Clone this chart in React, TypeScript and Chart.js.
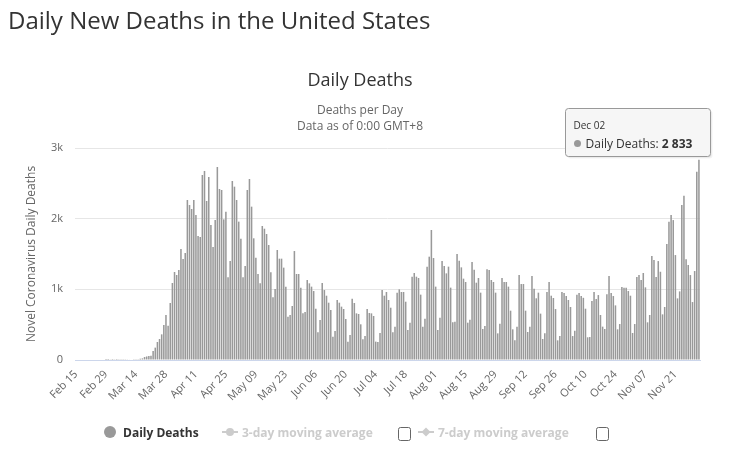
import React, { useEffect, useRef } from 'react';
import { Chart, registerables } from 'chart.js';

Chart.register(...registerables);

// ---- data ----
const monthNames = ['Feb', 'Mar', 'Apr', 'May', 'Jun', 'Jul', 'Aug', 'Sep', 'Oct', 'Nov', 'Dec'];
const monthFirstDay = [15, 1, 1, 1, 1, 1, 1, 1, 1, 1, 1];
const monthLastDay = [29, 31, 30, 31, 30, 31, 31, 30, 31, 30, 2];

const febDeaths = [0, 0, 0, 0, 0, 0, 0, 0, 0, 0, 0, 0, 0, 0, 1];
const marDeaths = [1, 5, 1, 4, 1, 2, 3, 4, 4, 5, 8, 7, 11, 10, 12, 18, 23, 42, 50, 55, 60, 127, 175, 255, 297, 363, 495, 636, 486, 807, 1090];
const aprDeaths = [1245, 1203, 1274, 1571, 1429, 1514, 2264, 2193, 2137, 2264, 2052, 1755, 1740, 2618, 2675, 2250, 2590, 1910, 1599, 1981, 2731, 2420, 2406, 1990, 2099, 1170, 1401, 2533, 2453, 2264];
const mayDeaths = [1958, 1717, 1170, 1330, 2406, 2561, 2170, 1722, 1448, 1217, 1085, 1896, 1858, 1783, 1627, 1240, 887, 1005, 1557, 1434, 1434, 1307, 1038, 613, 637, 764, 1542, 1217, 1217, 1024, 660];
const junDeaths = [679, 1132, 1085, 1038, 976, 726, 391, 566, 1090, 990, 910, 811, 708, 330, 410, 849, 811, 755, 722, 580, 260, 354, 868, 807, 660, 651, 505, 292, 340, 722];
const julDeaths = [665, 660, 623, 260, 255, 382, 990, 910, 962, 849, 740, 391, 472, 953, 1000, 962, 962, 825, 424, 528, 1179, 1231, 1179, 1160, 925, 472, 585, 1321, 1462, 1840, 1443];
const augDeaths = [1038, 424, 599, 1401, 1330, 1226, 1321, 1024, 533, 542, 1500, 1406, 1311, 1151, 1104, 528, 571, 1387, 1278, 1094, 1160, 953, 439, 481, 1283, 1274, 1132, 1104, 953, 377, 514];
const sepDeaths = [1160, 1104, 1104, 1038, 698, 434, 278, 472, 1203, 1075, 1075, 698, 396, 472, 1189, 1009, 873, 953, 656, 297, 377, 962, 1104, 910, 877, 721, 278, 339, 962, 948];
const octDeaths = [905, 849, 750, 339, 415, 924, 948, 905, 880, 726, 321, 325, 835, 962, 863, 919, 637, 472, 439, 929, 1188, 948, 905, 773, 434, 509, 1033, 1023, 1023, 976, 910];
const novDeaths = [382, 509, 1174, 1202, 1132, 1231, 1028, 533, 637, 1471, 1415, 1174, 1400, 1249, 646, 750, 1641, 1957, 2051, 1980, 1485, 872, 971, 2192, 2325, 1424, 1344, 1202, 820, 1259];
const decDeaths = [2664, 2833];

const tickLabels = ['Feb 15', 'Feb 29', 'Mar 14', 'Mar 28', 'Apr 11', 'Apr 25', 'May 09', 'May 23', 'Jun 06', 'Jun 20', 'Jul 04', 'Jul 18', 'Aug 01', 'Aug 15', 'Aug 29', 'Sep 12', 'Sep 26', 'Oct 10', 'Oct 24', 'Nov 07', 'Nov 21'];
const yTickValues = [0, 1000, 2000, 3000];
const yTickLabels = ['0', '1k', '2k', '3k'];

const deaths: number[] = [
  ...febDeaths, ...marDeaths, ...aprDeaths, ...mayDeaths, ...junDeaths, ...julDeaths,
  ...augDeaths, ...sepDeaths, ...octDeaths, ...novDeaths, ...decDeaths,
];

const categories: string[] = [];
monthNames.forEach((m, k) => {
  for (let d = monthFirstDay[k]; d <= monthLastDay[k]; d++) {
    categories.push(`${m} ${String(d).padStart(2, '0')}`);
  }
});

const FONT = '"Open Sans", "Noto Sans", sans-serif';
const BAR = '#999999';

function fmt(n: number) {
  return String(n).replace(/\B(?=(\d{3})+(?!\d))/g, ' ');
}

const decor = {
  id: 'decor',
  afterDraw(chart: any) {
    const ctx: CanvasRenderingContext2D = chart.ctx;
    ctx.save();
    ctx.textBaseline = 'alphabetic';

    // page heading
    ctx.fillStyle = '#333333';
    ctx.textAlign = 'left';
    ctx.font = `24px ${FONT}`;
    ctx.fillText('Daily New Deaths in the United States', 8, 29);

    // chart title & subtitle
    ctx.textAlign = 'center';
    ctx.font = `18px ${FONT}`;
    ctx.fillStyle = '#333333';
    ctx.fillText('Daily Deaths', 360, 86);
    ctx.font = `12px ${FONT}`;
    ctx.fillStyle = '#666666';
    ctx.fillText('Deaths per Day', 360, 114);
    ctx.fillText('Data as of 0:00 GMT+8', 360, 130);

    // y axis title
    ctx.save();
    ctx.translate(35, 254);
    ctx.rotate(-Math.PI / 2);
    ctx.font = `12px ${FONT}`;
    ctx.fillStyle = '#666666';
    ctx.textAlign = 'center';
    ctx.fillText('Novel Coronavirus Daily Deaths', 0, 0);
    ctx.restore();

    // legend
    const ly = 432;
    ctx.textAlign = 'left';
    ctx.fillStyle = BAR;
    ctx.beginPath();
    ctx.arc(110, ly, 6, 0, Math.PI * 2);
    ctx.fill();
    ctx.font = `bold 12px ${FONT}`;
    ctx.fillStyle = '#333333';
    ctx.fillText('Daily Deaths', 123, ly + 5);

    ctx.strokeStyle = '#cccccc';
    ctx.fillStyle = '#cccccc';
    ctx.lineWidth = 2;
    ctx.beginPath();
    ctx.moveTo(222, ly); ctx.lineTo(238, ly); ctx.stroke();
    ctx.beginPath(); ctx.arc(230, ly, 4, 0, Math.PI * 2); ctx.fill();
    ctx.fillText('3-day moving average', 242, ly + 5);

    ctx.beginPath();
    ctx.moveTo(418, ly); ctx.lineTo(434, ly); ctx.stroke();
    ctx.beginPath();
    ctx.moveTo(426, ly - 4.5); ctx.lineTo(430.5, ly); ctx.lineTo(426, ly + 4.5); ctx.lineTo(421.5, ly);
    ctx.closePath(); ctx.fill();
    ctx.fillText('7-day moving average', 438, ly + 5);

    ctx.strokeStyle = '#666666';
    ctx.lineWidth = 1;
    [398.5, 596.5].forEach((bx) => {
      ctx.beginPath();
      ctx.roundRect(bx, 427.5, 12, 13, 2);
      ctx.fillStyle = '#ffffff';
      ctx.fill();
      ctx.stroke();
    });

    // tooltip on the last point
    const meta = chart.getDatasetMeta(0);
    const idx = deaths.length - 1;
    const el = meta.data[idx];
    if (el) {
      const right = Math.round(el.x) + 11;
      const bottom = Math.round(el.y) - 4;
      const w = 145, h = 48;
      const x0 = right - w + 0.5, y0 = bottom - h + 0.5;
      ctx.fillStyle = 'rgba(0,0,0,0.06)';
      ctx.beginPath(); ctx.roundRect(x0 + 1, y0 + 1, w, h, 3); ctx.fill();
      ctx.fillStyle = 'rgba(0,0,0,0.05)';
      ctx.beginPath(); ctx.roundRect(x0 + 2, y0 + 2, w, h, 3); ctx.fill();
      ctx.fillStyle = 'rgba(247,247,247,0.95)';
      ctx.strokeStyle = '#999999';
      ctx.beginPath(); ctx.roundRect(x0, y0, w, h, 3); ctx.fill(); ctx.stroke();

      ctx.fillStyle = '#333333';
      ctx.font = `10px ${FONT}`;
      ctx.textAlign = 'left';
      ctx.fillText(categories[idx], x0 + 8, y0 + 20);
      ctx.fillStyle = BAR;
      ctx.beginPath(); ctx.arc(x0 + 12, y0 + 35, 3.5, 0, Math.PI * 2); ctx.fill();
      ctx.fillStyle = '#333333';
      ctx.font = `12px ${FONT}`;
      const lbl = 'Daily Deaths: ';
      ctx.fillText(lbl, x0 + 20, y0 + 39);
      const lw = ctx.measureText(lbl).width;
      ctx.font = `bold 12px ${FONT}`;
      ctx.fillText(fmt(deaths[idx]), x0 + 20 + lw, y0 + 39);
    }
    ctx.restore();
  },
};

export default function App() {
  const ref = useRef<HTMLCanvasElement>(null);
  useEffect(() => {
    const canvas = ref.current;
    if (!canvas) return;
    const chart = new Chart(canvas, {
      type: 'bar',
      data: {
        labels: categories,
        datasets: [{
          label: 'Daily Deaths',
          data: deaths,
          backgroundColor: BAR,
          borderWidth: 0,
          barPercentage: 0.72,
          categoryPercentage: 1,
        }],
      },
      options: {
        responsive: false,
        animation: false,
        devicePixelRatio: 1,
        layout: { padding: { top: 148, left: 20, right: 29, bottom: 0 } },
        plugins: {
          legend: { display: false },
          tooltip: { enabled: false },
          title: { display: false },
        },
        scales: {
          x: {
            grid: { display: false, drawTicks: false },
            border: { color: '#ccd6eb' },
            ticks: {
              autoSkip: false,
              minRotation: 45,
              maxRotation: 45,
              padding: 8,
              color: '#666666',
              font: { family: FONT, size: 11 },
              callback: (_v: any, i: number) => (tickLabels.includes(categories[i]) ? categories[i] : ''),
            },
            afterFit: (s: any) => { s.height = 91; },
          },
          y: {
            min: 0,
            max: 3000,
            afterBuildTicks: (s: any) => { s.ticks = yTickValues.map((v) => ({ value: v })); },
            ticks: {
              padding: 12,
              color: '#666666',
              font: { family: FONT, size: 11 },
              callback: (v: any) => yTickLabels[yTickValues.indexOf(Number(v))] ?? '',
            },
            grid: { color: '#e6e6e6', drawTicks: false },
            border: { display: false },
            afterFit: (s: any) => { s.width = 55; },
          },
        },
      },
      plugins: [decor],
    } as any);
    return () => chart.destroy();
  }, []);
  return (
    <div style={{ position: 'absolute', left: 0, top: 0, width: 729, height: 451, background: '#fff' }}>
      <canvas ref={ref} width={729} height={451} style={{ display: 'block' }} />
    </div>
  );
}
